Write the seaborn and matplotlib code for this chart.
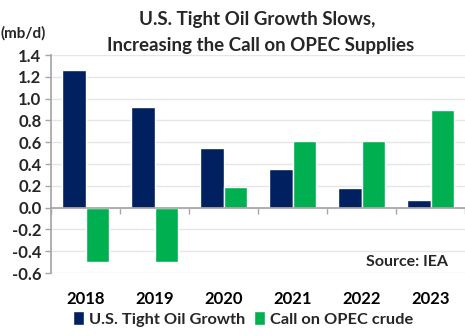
import matplotlib
matplotlib.use("Agg")
import matplotlib.pyplot as plt
import matplotlib.transforms as mtransforms
import seaborn as sns
import pandas as pd
import numpy as np

years = ["2018", "2019", "2020", "2021", "2022", "2023"]
tight_oil = [1.26, 0.92, 0.55, 0.35, 0.18, 0.07]
opec_call = [-0.50, -0.50, 0.19, 0.61, 0.61, 0.90]
series_names = ["U.S. Tight Oil Growth", "Call on OPEC crude"]
colors = ["#002060", "#00B050"]

df = pd.DataFrame({
    "year": years * 2,
    "value": tight_oil + opec_call,
    "series": [series_names[0]] * len(years) + [series_names[1]] * len(years),
})

sns.set_theme(style="white")
plt.rcParams["font.family"] = ["Lato", "DejaVu Sans"]
plt.rcParams["font.weight"] = "bold"

fig = plt.figure(figsize=(4.65, 3.36), dpi=100)
ax = fig.add_axes([0.110, 0.1875, 0.89, 0.6485])

sns.barplot(data=df, x="year", y="value", hue="series", palette=colors,
            width=0.68, gap=0, ax=ax, saturation=1, legend=True)

ax.set_xlim(-0.5, 5.5)
ax.set_ylim(-0.6, 1.4)
yt = np.round(np.arange(-0.6, 1.41, 0.2), 1)
ax.set_yticks(yt)
ax.set_yticklabels([f"{v:.1f}" for v in yt], fontsize=12, fontweight="bold")
ax.yaxis.grid(True, color="#e6e6e6", linewidth=1)
ax.set_axisbelow(True)

for s in ["top", "right"]:
    ax.spines[s].set_visible(False)
ax.spines["left"].set_color("#a6a6a6")
ax.spines["bottom"].set_position(("data", 0))
ax.spines["bottom"].set_color("#a6a6a6")
ax.set_xticks(np.arange(-0.5, 5.6, 1.0))
ax.set_xticklabels([])
ax.tick_params(axis="x", direction="out", length=4, color="#a6a6a6", width=1, bottom=True)
ax.tick_params(axis="y", direction="out", length=4, color="#a6a6a6", width=1, left=True, pad=3)
ax.set_xlabel("")
ax.set_ylabel("")

trans = mtransforms.blended_transform_factory(ax.transData, fig.transFigure)
for i, yr in enumerate(years):
    ax.text(i, 1 - 299 / 336, yr, transform=trans, ha="center", va="center",
            fontsize=12, fontweight="bold", color="black")

fig.text(0.553, 1 - 20 / 336, "U.S. Tight Oil Growth Slows,", ha="center", va="center",
         fontsize=13.5, fontweight="bold")
fig.text(0.56, 1 - 45 / 336, "Increasing the Call on OPEC Supplies", ha="center", va="center",
         fontsize=13.5, fontweight="bold")
fig.text(0.002, 1 - 33 / 336, "(mb/d)", ha="left", va="center", fontsize=11, fontweight="bold")
ax.text(0.958, 0.05, "Source: IEA", transform=ax.transAxes, ha="right", va="center",
        fontsize=11.5, fontweight="bold")

leg = ax.legend(loc="center", bbox_to_anchor=(0.523, 1 - 319 / 336), bbox_transform=fig.transFigure,
                ncol=2, frameon=False, prop={"weight": "bold", "size": 11.8},
                handlelength=0.7, handleheight=0.9,
                handletextpad=0.3, columnspacing=0.5, borderaxespad=0)

fig.savefig("out.png", dpi=100)
